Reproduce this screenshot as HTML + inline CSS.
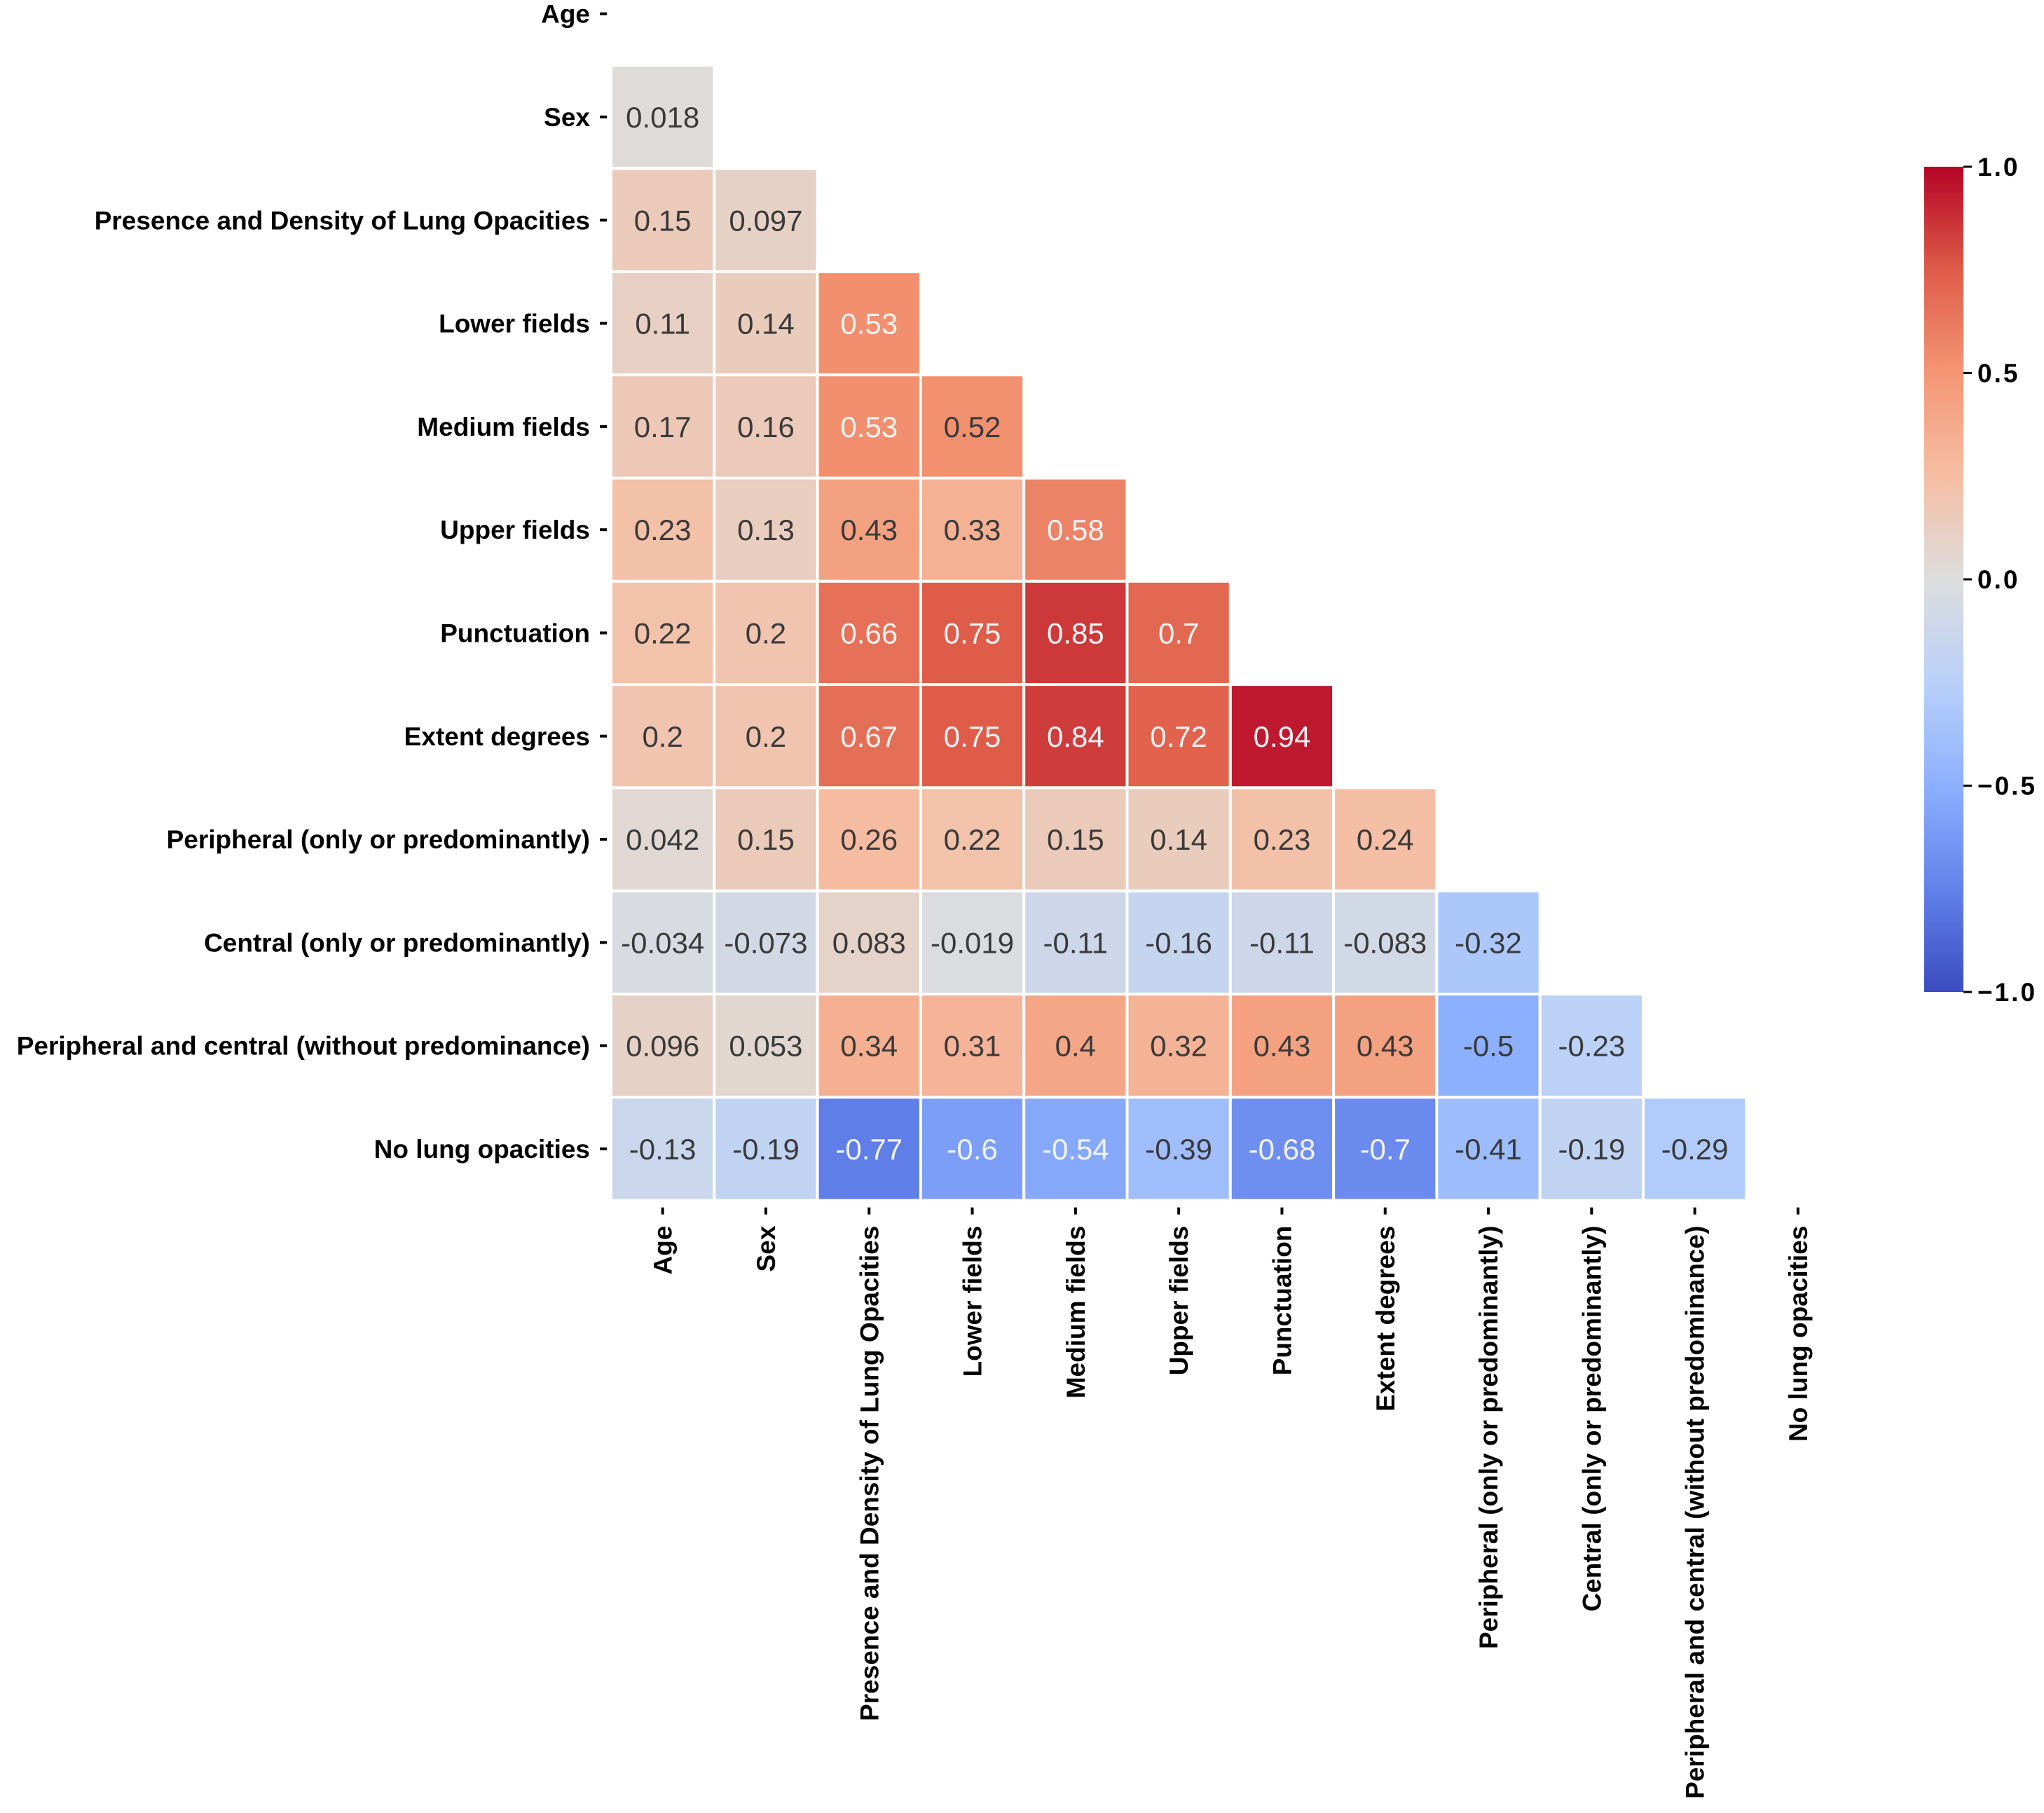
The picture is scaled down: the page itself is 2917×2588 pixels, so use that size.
<!DOCTYPE html>
<html><head><meta charset="utf-8"><style>
html,body{margin:0;padding:0;background:#fff;}
svg{display:block;font-family:"Liberation Sans",sans-serif;}
</style></head><body>
<svg id="chart" width="2917" height="2588" viewBox="0 0 2917 2588" xmlns="http://www.w3.org/2000/svg">
<defs>
<linearGradient id="cw" x1="0" y1="1" x2="0" y2="0">
<stop offset="0" stop-color="rgb(59,76,192)"/>
<stop offset="0.125" stop-color="rgb(98,130,234)"/>
<stop offset="0.25" stop-color="rgb(141,176,254)"/>
<stop offset="0.375" stop-color="rgb(184,208,249)"/>
<stop offset="0.5" stop-color="rgb(221,221,221)"/>
<stop offset="0.625" stop-color="rgb(245,190,163)"/>
<stop offset="0.75" stop-color="rgb(244,150,116)"/>
<stop offset="0.875" stop-color="rgb(222,92,72)"/>
<stop offset="1" stop-color="rgb(180,4,38)"/>
</linearGradient>
</defs>
<g id="cells"></g>
<g id="ylabels"></g>
<g id="xlabels"></g>
<g id="cbar"></g>
</svg>
<script>
const labels = ["Age","Sex","Presence and Density of Lung Opacities","Lower fields","Medium fields","Upper fields","Punctuation","Extent degrees","Peripheral (only or predominantly)","Central (only or predominantly)","Peripheral and central (without predominance)","No lung opacities"];
const rowSex = [0.018];
const rowPresence = [0.15,0.097];
const rowLower = [0.11,0.14,0.53];
const rowMedium = [0.17,0.16,0.53,0.52];
const rowUpper = [0.23,0.13,0.43,0.33,0.58];
const rowPunct = [0.22,0.2,0.66,0.75,0.85,0.7];
const rowExtent = [0.2,0.2,0.67,0.75,0.84,0.72,0.94];
const rowPeriph = [0.042,0.15,0.26,0.22,0.15,0.14,0.23,0.24];
const rowCentral = [-0.034,-0.073,0.083,-0.019,-0.11,-0.16,-0.11,-0.083,-0.32];
const rowPC = [0.096,0.053,0.34,0.31,0.4,0.32,0.43,0.43,-0.5,-0.23];
const rowNone = [-0.13,-0.19,-0.77,-0.6,-0.54,-0.39,-0.68,-0.7,-0.41,-0.19,-0.29];
const cbarTicks = [1.0,0.5,0.0,-0.5,-1.0];
const cbarTickLabels = ["1.0","0.5","0.0","\u22120.5","\u22121.0"];
const matrix = [[],rowSex,rowPresence,rowLower,rowMedium,rowUpper,rowPunct,rowExtent,rowPeriph,rowCentral,rowPC,rowNone];

const NS="http://www.w3.org/2000/svg";
const X0=872, Y0=-54, CELL=147.3;
const xPos=j=>X0+j*CELL;
const yPos=i=>Y0+i*CELL;
const CB_TOP=238, CB_BOT=1416, CB_X=2746, CB_W=56;
const cbY=v=>CB_TOP+(1-v)/2*(CB_BOT-CB_TOP);

const stops=[[0,[59,76,192]],[0.125,[98,130,234]],[0.25,[141,176,254]],[0.375,[184,208,249]],[0.5,[221,221,221]],[0.625,[245,190,163]],[0.75,[244,150,116]],[0.875,[222,92,72]],[1,[180,4,38]]];
function cmap(v){const t=(v+1)/2;for(let k=1;k<stops.length;k++){if(t<=stops[k][0]){const a=stops[k-1],b=stops[k];const f=(t-a[0])/(b[0]-a[0]);const c=a[1].map((x,i)=>Math.round(x+(b[1][i]-x)*f));return `rgb(${c[0]},${c[1]},${c[2]})`;}}return "rgb(180,4,38)";}
function mk(tag,attrs,parent){const e=document.createElementNS(NS,tag);for(const k in attrs)e.setAttribute(k,attrs[k]);parent.appendChild(e);return e;}

const gc=document.getElementById('cells');
matrix.forEach((row,i)=>{row.forEach((v,j)=>{
  const r=mk('rect',{x:xPos(j),y:yPos(i),width:CELL,height:CELL,fill:cmap(v),stroke:'#fff','stroke-width':4},gc);
  
  
  const t=mk('text',{x:xPos(j)+CELL/2,y:yPos(i)+CELL/2+15,'text-anchor':'middle','font-size':42,fill:Math.abs(v)>0.525?'#f4f4f4':'#3a3a3a'},gc);
  t.textContent=String(v);
  
  
});});

const gy=document.getElementById('ylabels');
labels.forEach((l,i)=>{
  const cy=yPos(i)+CELL/2;
  mk('line',{x1:856,x2:866,y1:cy,y2:cy,stroke:'#000','stroke-width':4},gy);
  const t=mk('text',{x:842,y:cy+13,'text-anchor':'end','font-size':37,'font-weight':'bold',fill:'#000'},gy);
  t.textContent=l;
  
  
});
const gx=document.getElementById('xlabels');
const xb=yPos(12);
labels.forEach((l,j)=>{
  const cx=xPos(j)+CELL/2;
  mk('line',{x1:cx,x2:cx,y1:xb+10,y2:xb+20,stroke:'#000','stroke-width':4},gx);
  const t=mk('text',{x:0,y:0,'text-anchor':'end','font-size':37,'font-weight':'bold',fill:'#000',transform:`translate(${cx+13},${xb+36}) rotate(-90)`},gx);
  t.textContent=l;
  
  
});

const gb=document.getElementById('cbar');
const cb=mk('rect',{x:CB_X,y:CB_TOP,width:CB_W,height:CB_BOT-CB_TOP,fill:'url(#cw)'},gb);


cbarTicks.forEach((v,k)=>{
  const y=cbY(v);
  mk('line',{x1:CB_X+CB_W,x2:CB_X+CB_W+12,y1:y,y2:y,stroke:'#000','stroke-width':3},gb);
  const t=mk('text',{x:CB_X+CB_W+20,y:y+13,'font-size':37,'font-weight':'bold','letter-spacing':3,fill:'#000'},gb);
  t.textContent=cbarTickLabels[k];
  
  
});
</script>
</body></html>
